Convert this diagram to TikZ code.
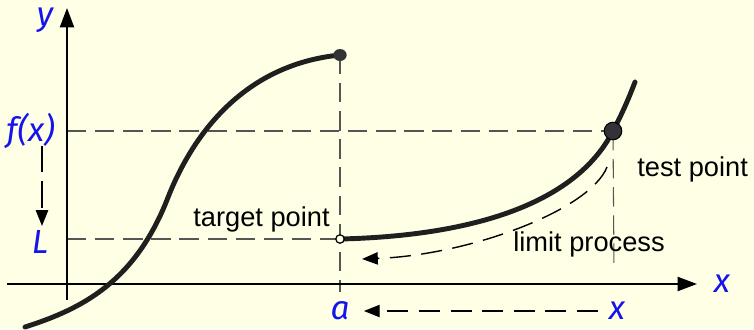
\documentclass[tikz,border=0pt]{standalone}
\usepackage{fontspec}
\setmainfont{Liberation Sans}
\newfontfamily\labfont{Fira Sans}
\usetikzlibrary{positioning, arrows.meta, calc}
\definecolor{paper}{RGB}{255,255,230}
\definecolor{labblue}{RGB}{20,20,235}
\definecolor{guidegray}{RGB}{85,85,85}
\definecolor{dotgray}{RGB}{50,50,55}

\begin{document}
\begin{tikzpicture}[x=0.02cm, y=-0.02cm,
    curve/.style={line width=2.8pt, draw=black!88, line cap=round},
    axis/.style={line width=1.1pt, -{Triangle[length=11pt, width=8pt]}},
    guide/.style={draw=guidegray, line width=0.6pt, dash pattern=on 11pt off 5pt},
    move/.style={draw=black, line width=0.8pt, dash pattern=on 12pt off 6pt, -{Triangle[length=9pt, width=7pt]}},
    lab/.style={text=labblue, inner sep=0pt, font=\fontsize{19}{21}\selectfont\labfont\itshape},
    txt/.style={inner sep=0pt, font=\fontsize{15.5}{18}\selectfont},
]
% background and frame
\fill[paper] (0,0) rectangle (754,329);
\useasboundingbox (0,0) rectangle (754,329);

% key points
\coordinate (top) at (340,55);
\coordinate (hole) at (340,239);
\coordinate (tp) at (613,131);
\coordinate (fxy) at (67,131);
\coordinate (ly) at (67,239);
\coordinate (abot) at (340,292);
\coordinate (tbot) at (614,270);

% guide lines
\draw[guide] (fxy) -- (tp);
\draw[guide] (ly) -- (hole);
\draw[guide] (top) -- (abot);
\draw[guide] (tp) -- (tbot);

% axes
\draw[axis] (7,284) -- (697,284) node[lab, right=9pt] (xlab) {x};
\draw[axis] (67,300) -- (67,8) coordinate (ytip);
\node[lab] (ylab) at (45,20) {y};

% the function
\draw[curve] (25,327) .. controls (85,308) and (135,280) .. (167,200)
    .. controls (190,140) and (240,65) .. (top);
\draw[curve] (hole) .. controls (470,236) and (575,205) .. (tp)
    .. controls (624,110) and (630,95) .. (635,82);

% points
\fill[dotgray] (top) ellipse (3.8pt and 3.4pt);
\filldraw[fill=dotgray, draw=black, line width=0.6pt] (tp) circle (5pt);
\filldraw[fill=paper, draw=black, line width=0.7pt] (hole) circle (2.4pt);

% limit process
\coordinate (lpstart) at (607,167);
\coordinate (lpend) at (362,259);
\draw[move] (lpstart) .. controls (590,210) and (470,255) .. (lpend);

% labels
\node[lab, anchor=east] (fx) at (55,131) {f(x)};
\node[lab] (L) at (40,242) {L};
\node[lab] (a) at (340,311) {a};
\node[lab] (x) at (617,311) {x};
\node[txt, anchor=base east] (target) at (330,226) {target point};
\node[txt, anchor=base west] (test) at (637,176) {test point};
\node[txt, anchor=base west] (limit) at (513,251) {limit process};

\draw[move, dash pattern=on 15pt off 5pt] (42,146) -- (42,226);
\draw[move] (x.west) ++(-6pt,0) -- ($(a.east)+(8pt,0)$);
\end{tikzpicture}
\end{document}
